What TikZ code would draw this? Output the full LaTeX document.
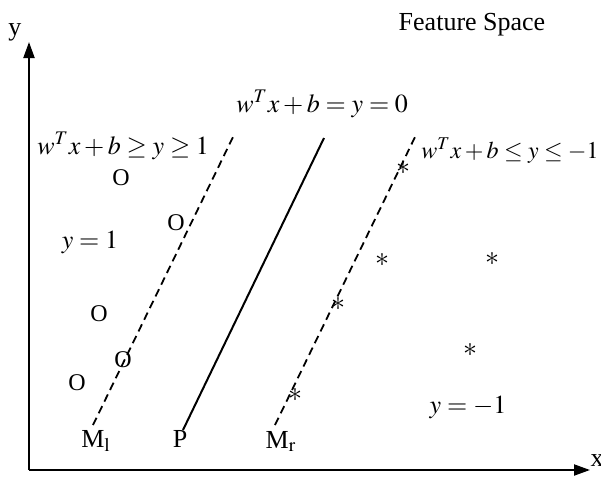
\documentclass[tikz,border=0pt]{standalone}
\usepackage{mathptmx}
\usepackage[no-math]{fontspec}
\setmainfont{Liberation Serif}
\usetikzlibrary{arrows.meta}

\begin{document}
\begin{tikzpicture}[x=0.5pt,y=-0.5pt,
        txt/.style={font=\fontsize{13}{15}\selectfont, inner sep=0pt},
        eq/.style={font=\fontsize{13}{15}\selectfont, inner sep=0pt, anchor=base west},
        circ/.style={font=\fontsize{12}{14}\selectfont, inner sep=0pt},
        star/.style={font=\fontsize{14}{16}\selectfont, inner sep=0pt},
        axis/.style={line width=1pt, -{Triangle[length=8pt,width=5.5pt]}},
        margin/.style={line width=0.9pt, dash pattern=on 4pt off 2.5pt}]
        \useasboundingbox (0,0) rectangle (601,478);

        % Eixos
        \coordinate (o) at (29,470);
        \coordinate (xtip) at (590,470);
        \coordinate (ytip) at (29,42);
        \draw[axis] (o) -- (xtip);
        \draw[axis] (o) -- (ytip);
        \node[txt] (xlab) at (597,461) {x};
        \node[txt] (ylab) at (15,32) {y};
        \node[txt, anchor=base] (title) at (472,30) {Feature Space};

        % Hiperplans: marge esquerre, separador, marge dret
        \coordinate (ml0) at (93,425);  \coordinate (ml1) at (233,137);
        \coordinate (p0) at (183,430);  \coordinate (p1) at (324,138);
        \coordinate (mr0) at (275,425); \coordinate (mr1) at (416,135);
        \draw[margin] (ml0) -- (ml1);
        \draw[line width=1pt] (p0) -- (p1);
        \draw[margin] (mr0) -- (mr1);
        \node[txt, anchor=base] (ml) at (96,447) {M$_\mathrm{l}$};
        \node[txt, anchor=base] (p) at (180,447) {P};
        \node[txt, anchor=base] (mr) at (281,448) {M$_\mathrm{r}$};

        % Equacions
        \node[eq] (eqpos) at (37,154) {$w^T x + b \geq y \geq 1$};
        \node[eq] (eqzero) at (236,112) {$w^T x + b = y = 0$};
        \node[eq, font=\fontsize{12}{14}\selectfont] (eqneg) at (421,158) {$w^T x + b \leq y \leq -1$};
        \node[eq, anchor=base] (ypos) at (90,248) {$y = 1$};
        \node[eq, anchor=base] (yneg) at (468,413) {$y = -1$};

        % Classe +1
        \foreach \x/\y [count=\i] in {121/178, 176/223, 99/314, 123/360, 77/383}
            \node[circ] (c\i) at (\x,\y) {O};

        % Classe -1
        \foreach \x/\y [count=\i] in {403/168, 382/260, 492/259, 338/304, 470/350, 295/395}
            \node[star] (s\i) at (\x,\y) {$\ast$};
    \end{tikzpicture}
\end{document}
